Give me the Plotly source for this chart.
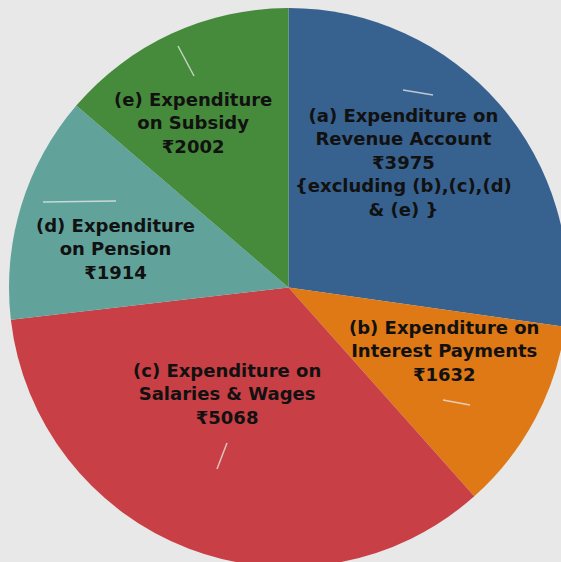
import plotly.graph_objects as go

# ---- data ----
categories = [
    "(a) Expenditure on<br>Revenue Account<br>₹3975<br>{excluding (b),(c),(d)<br>& (e) }",
    "(b) Expenditure on<br>Interest Payments<br>₹1632",
    "(c) Expenditure on<br>Salaries & Wages<br>₹5068",
    "(d) Expenditure<br>on Pension<br>₹1914",
    "(e) Expenditure<br>on Subsidy<br>₹2002",
]
values = [3975, 1632, 5068, 1914, 2002]
colors = ["#37618e", "#de7916", "#c84045", "#61a29b", "#458b3b"]

# figure is slightly larger than the window so the pie is cropped like the reference
W, H = 568, 567
# label centres (pixels) - layout only
label_px = [(403, 162), (444, 351), (227, 394), (115, 249), (193, 123)]
# faint leader strokes (pixels) - decoration
leader_px = [((403, 90), (433, 95)), ((443, 400), (470, 405)), ((227, 443), (217, 469)),
             ((43, 202), (116, 201)), ((178, 46), (194, 76))]

fig = go.Figure(go.Pie(
    labels=categories,
    values=values,
    marker=dict(colors=colors, line=dict(width=0)),
    sort=False,
    direction="clockwise",
    rotation=0,
    textinfo="none",
    hoverinfo="label+value",
    showlegend=False,
    domain=dict(x=[9 / W, 1], y=[0, 1 - 8 / H]),
))

for txt, (px, py) in zip(categories, label_px):
    fig.add_annotation(
        x=px / W, y=1 - py / H, xref="paper", yref="paper",
        text=txt, showarrow=False, xanchor="center", yanchor="middle",
        font=dict(family="DejaVu Sans", size=18, color="#111111", weight="bold"),
        align="center",
    )

for (x0, y0), (x1, y1) in leader_px:
    fig.add_shape(type="line", xref="paper", yref="paper",
                  x0=x0 / W, y0=1 - y0 / H, x1=x1 / W, y1=1 - y1 / H,
                  line=dict(color="rgba(235,235,235,0.75)", width=1.5))

fig.update_layout(
    width=W, height=H,
    margin=dict(l=0, r=0, t=0, b=0),
    paper_bgcolor="#e8e8e8",
    plot_bgcolor="#e8e8e8",
)

fig.write_html(
    "out.html",
    config={"displayModeBar": False},
    post_script=(
        "document.body.style.margin='0';"
        "document.body.style.overflow='hidden';"
        "document.documentElement.style.overflow='hidden';"
        "document.body.style.background='#e8e8e8';"
    ),
)
